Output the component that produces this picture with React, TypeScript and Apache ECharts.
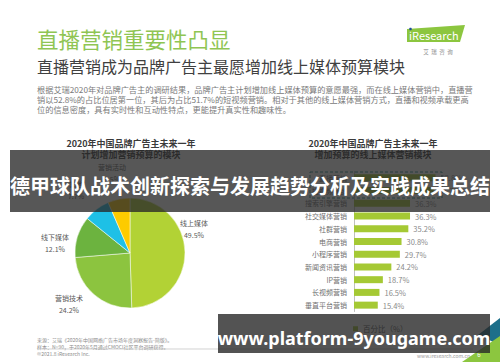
import React, { useEffect, useRef } from "react";
import * as echarts from "echarts";

const pieNames = ["线上媒体", "营销技术", "线下媒体", "其他", "营销活动"];
const pieValues = [49.5, 24.2, 12.1, 7.7, 6.5];
const pieColors = ["#b2d235", "#8cc43f", "#6cb33f", "#1ec0e6", "#fdcb00"];
const pieLabelPos = [
  [194, 229],
  [69, 304],
  [55, 243],
  [76, 190],
  [112, 173],
];

const barCategories = [
  "直播营销",
  "短视频营销",
  "搜索引擎营销",
  "社交媒体营销",
  "社群营销",
  "电商营销",
  "小程序营销",
  "新闻资讯营销",
  "IP营销",
  "长视频营销",
  "垂直平台营销",
];
const barValues = [52.8, 51.7, 36.3, 36.3, 35.2, 30.8, 29.7, 24.2, 18.7, 16.5, 15.4];
const barSeriesName = "百分比（%）";

const bodyLines = [
  "根据艾瑞2020年对品牌广告主的调研结果，品牌广告主计划增加线上媒体预算的意愿最强，而在线上媒体营销中，直播营",
  "销以52.8%的占比位居第一位，其后为占比51.7%的短视频营销。相对于其他的线上媒体营销方式，直播和视频承载更高",
  "位的信息密度，具有实时性和互动性特点，更能提升真实性和趣味性。",
];
const footerLines = [
  "来源：艾瑞《2020年中国网络广告市场年度洞察报告-简版》。",
  "样本：N=90，于2020年5月通过CMOCl社区平台调研获得。",
  "©2021.8 iResearch Inc.",
];

const FONT = "'Noto Sans CJK SC', 'Noto Sans', sans-serif";

export default function App() {
  const ref = useRef<HTMLDivElement>(null);
  useEffect(() => {
    if (!ref.current) return;
    const chart = echarts.init(ref.current, null, { renderer: "svg" });
    const graphics: any[] = [];
    // header
    graphics.push({
      type: "text",
      left: 37,
      top: 28,
      style: { text: "直播营销重要性凸显", fill: "#8fc553", font: `21.5px ${FONT}` },
    });
    graphics.push({
      type: "text",
      left: 37,
      top: 58,
      style: { text: "直播营销成为品牌广告主最愿增加线上媒体预算模块", fill: "#404040", font: `16px ${FONT}` },
    });
    bodyLines.forEach((t, i) => {
      graphics.push({
        type: "text",
        left: 37,
        top: 85 + i * 10,
        style: { text: t, fill: "#7a7a7a", font: `8.2px ${FONT}` },
      });
    });
    // logo
    graphics.push({
      type: "polygon",
      shape: { points: [[407, 29], [465, 25], [460, 42], [407, 42]] },
      style: { fill: "#8cc63f" },
    });
    graphics.push({
      type: "text",
      x: 409,
      y: 34.5,
      style: { text: "iResearch", fill: "#ffffff", font: `11px ${FONT}`, verticalAlign: "middle" },
    });
    graphics.push({
      type: "circle",
      shape: { cx: 410.5, cy: 29, r: 1.3 },
      style: { fill: "#1f4e9a" },
    });
    graphics.push({
      type: "text",
      x: 438,
      y: 52,
      style: { text: "艾  瑞  咨  询", fill: "#8c8c8c", font: `5.5px ${FONT}`, align: "center", verticalAlign: "middle" },
    });
    // chart titles
    const titles = [
      { x: 131, a: "2020年中国品牌广告主未来一年", b: "计划增加营销预算的模块" },
      { x: 373, a: "2020年中国品牌广告主未来一年", b: "增加预算的线上媒体营销模块" },
    ];
    titles.forEach((t) => {
      graphics.push({
        type: "text",
        x: t.x,
        y: 143,
        style: { text: t.a, fill: "#3a3a3a", font: `bold 9px ${FONT}`, align: "center", verticalAlign: "middle" },
      });
      graphics.push({
        type: "text",
        x: t.x,
        y: 154,
        style: { text: t.b, fill: "#3a3a3a", font: `bold 9px ${FONT}`, align: "center", verticalAlign: "middle" },
      });
    });
    // dashed highlight box
    graphics.push({
      type: "rect",
      shape: { x: 310, y: 172, width: 132, height: 26 },
      style: { fill: "none", stroke: "#2a8f8f", lineWidth: 1, lineDash: [3, 2] },
    });
    // footer
    footerLines.forEach((t, i) => {
      graphics.push({
        type: "text",
        x: 37,
        y: 339 + i * 7,
        style: { text: t, fill: "#8c8c8c", font: `5px ${FONT}`, verticalAlign: "middle" },
      });
    });
    graphics.push({
      type: "line",
      shape: { x1: 37, y1: 349, x2: 473, y2: 349 },
      style: { stroke: "#bfbfbf", lineWidth: 0.7 },
    });
    graphics.push({
      type: "text",
      x: 470,
      y: 355,
      style: { text: "www.iresearch.com.cn", fill: "#9a9a9a", font: `5px ${FONT}`, align: "right", verticalAlign: "middle" },
    });
    graphics.push({
      type: "polygon",
      shape: { points: [[478, 335], [500, 318], [500, 345]] },
      style: { fill: "#1d6f8a" },
    });
    graphics.push({
      type: "polygon",
      shape: { points: [[462, 362], [500, 336], [500, 362]] },
      style: { fill: "#8cc63f" },
    });
    graphics.push({
      type: "text",
      x: 479,
      y: 354,
      style: { text: "6", fill: "#ffffff", font: `6px ${FONT}`, align: "center", verticalAlign: "middle" },
    });
    // overlay banners
    graphics.push({
      type: "rect",
      z: 100,
      shape: { x: 10, y: 150, width: 480, height: 62 },
      style: { fill: "rgba(40,40,40,0.78)" },
    });
    graphics.push({
      type: "text",
      z: 101,
      x: 250,
      y: 185,
      style: {
        text: "德甲球队战术创新探索与发展趋势分析及实践成果总结",
        fill: "#ffffff",
        font: `bold 20px ${FONT}`,
        align: "center",
        verticalAlign: "middle",
      },
    });
    graphics.push({
      type: "rect",
      z: 100,
      shape: { x: 218, y: 314, width: 272, height: 39 },
      style: { fill: "rgba(40,40,40,0.8)" },
    });
    graphics.push({
      type: "text",
      z: 101,
      x: 354,
      y: 338,
      style: {
        text: "www.platform-9yougame.com",
        fill: "#ffffff",
        font: `bold 18px 'Noto Sans', 'Open Sans', sans-serif`,
        align: "center",
        verticalAlign: "middle",
      },
    });

    chart.setOption({
      animation: false,
      backgroundColor: "#ffffff",
      textStyle: { fontFamily: FONT },
      legend: {
        data: [barSeriesName],
        left: 348,
        top: 320,
        itemWidth: 5,
        itemHeight: 5,
        itemGap: 4,
        icon: "rect",
        textStyle: { fontSize: 7.5, color: "#595959" },
      },
      grid: { left: 354, top: 171.5, width: 92.6, height: 140, containLabel: false },
      xAxis: { type: "value", min: 0, max: 60, show: false },
      yAxis: {
        type: "category",
        inverse: true,
        data: barCategories,
        axisLine: { show: true, lineStyle: { color: "#bfbfbf", width: 1 } },
        axisTick: { show: false },
        axisLabel: { fontSize: 7, color: "#707070", margin: 7 },
      },
      series: [
        {
          type: "bar",
          name: barSeriesName,
          data: barValues,
          barWidth: 7,
          itemStyle: { color: "#a5c934" },
          label: {
            show: true,
            position: "right",
            distance: 5,
            formatter: (p: any) => p.value.toFixed(1) + "%",
            fontSize: 7.5,
            color: "#8a8a8a",
          },
        },
        {
          type: "pie",
          name: "pie",
          center: [130, 253],
          radius: 55,
          startAngle: 90,
          clockwise: true,
          data: pieNames.map((n, i) => ({ name: n, value: pieValues[i], itemStyle: { color: pieColors[i] } })),
          label: {
            show: true,
            position: "outside",
            formatter: "{b}\n{c}%",
            fontSize: 7,
            lineHeight: 12,
            color: "#595959",
            align: "center",
            overflow: "none",
            width: 60,
          },
          labelLine: { show: false },
          labelLayout: (p: any) => {
            const pos = pieLabelPos[p.dataIndex];
            return { x: pos[0], y: pos[1], align: "center", verticalAlign: "middle" };
          },
          itemStyle: { borderColor: "#ffffff", borderWidth: 0.5 },
        },
      ],
      graphic: { elements: graphics },
    });
    return () => chart.dispose();
  }, []);
  return (
    <div
      ref={ref}
      style={{ position: "fixed", left: 0, top: 0, width: 500, height: 362 }}
    />
  );
}
